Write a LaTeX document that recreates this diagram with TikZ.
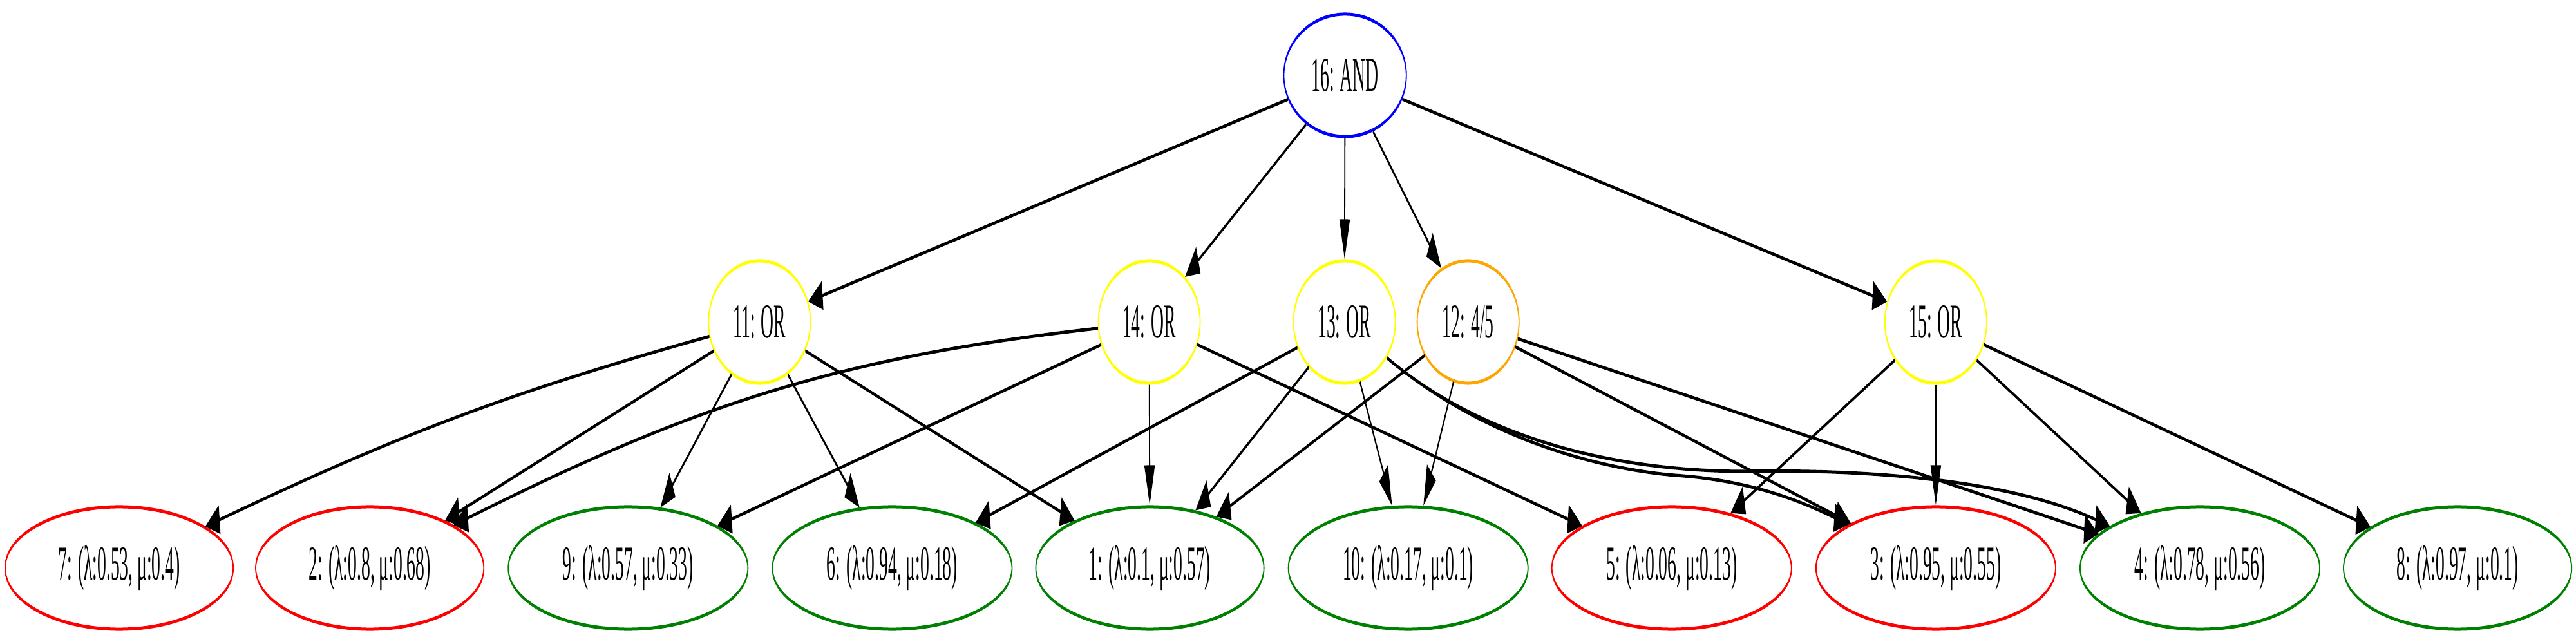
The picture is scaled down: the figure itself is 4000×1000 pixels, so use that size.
\documentclass[tikz,border=0pt]{standalone}
\usepackage{fontspec}
\setmainfont{Liberation Serif}
\usepackage{xcolor}
\usetikzlibrary{shapes.geometric,arrows.meta}

\definecolor{okgreen}{RGB}{0,128,0}
\definecolor{gateorange}{RGB}{255,165,0}
\definecolor{gateyellow}{RGB}{255,255,0}

\tikzset{
  gate/.style={ellipse, draw, line width=0.05cm, inner sep=0pt, minimum width=4.33cm, minimum height=1.9cm, font=\fontsize{21.5}{25}\selectfont},
  leaf/.style={gate, minimum width=10.19cm},
  slim/.style={minimum width=9.7cm},
  dep/.style={-{Triangle[length=0.62cm,width=0.44cm]}, line width=0.05cm},
}

\begin{document}
\begin{tikzpicture}[x=0.01cm,y=0.01cm]
  \useasboundingbox (0,0) rectangle (4000,1000);
  \begin{scope}[x=0.027397cm, transform canvas={xscale=0.365}]
    \node (n16) [gate, draw=blue, minimum width=5.21cm] at (2088,883) {16: AND};
    \node (n11) [gate, draw=gateyellow] at (1179,500) {11: OR};
    \node (n14) [gate, draw=gateyellow] at (1784,500) {14: OR};
    \node (n13) [gate, draw=gateyellow] at (2087,500) {13: OR};
    \node (n12) [gate, draw=gateorange] at (2279,500) {12: 4/5};
    \node (n15) [gate, draw=gateyellow] at (3005,500) {15: OR};
    \node (n7) [leaf, slim, draw=red] at (185,118) {7: (λ:0.53, μ:0.4)};
    \node (n2) [leaf, slim, draw=red] at (574,118) {2: (λ:0.8, μ:0.68)};
    \node (n9) [leaf, draw=okgreen] at (975,118) {9: (λ:0.57, μ:0.33)};
    \node (n6) [leaf, draw=okgreen] at (1385,118) {6: (λ:0.94, μ:0.18)};
    \node (n1) [leaf, slim, draw=okgreen] at (1785,118) {1: (λ:0.1, μ:0.57)};
    \node (n10) [leaf, draw=okgreen] at (2186,118) {10: (λ:0.17, μ:0.1)};
    \node (n5) [leaf, draw=red] at (2595,118) {5: (λ:0.06, μ:0.13)};
    \node (n3) [leaf, draw=red] at (3005,118) {3: (λ:0.95, μ:0.55)};
    \node (n4) [leaf, draw=okgreen] at (3415,118) {4: (λ:0.78, μ:0.56)};
    \node (n8) [leaf, slim, draw=okgreen] at (3815,118) {8: (λ:0.97, μ:0.1)};
    \foreach \s/\t in {16/11,16/14,16/13,16/12,16/15,11/2,11/9,11/6,11/1,14/9,14/1,14/5,13/6,13/1,13/10,12/1,12/10,12/3,12/4,15/5,15/3,15/4,15/8} {\draw[dep] (n\s) -- (n\t);}
    \draw[dep] (n11) to[bend right=2] (n7);
    \draw[dep] (n14) to[bend right=4] (n2);
    % two long splines from 13 into the right half
    \draw[dep] (n13) .. controls (2300,320) and (2500,270) .. (2700,268) .. controls (2900,272) and (3120,255) .. (n4);
    \draw[dep] (n13) .. controls (2300,320) and (2480,272) .. (2600,262) .. controls (2720,254) and (2800,220) .. (n3);
  \end{scope}
\end{tikzpicture}
\end{document}
